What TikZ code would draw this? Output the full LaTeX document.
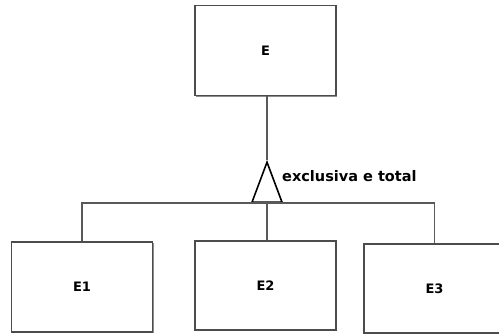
\documentclass[tikz,border=0pt]{standalone}
\usepackage{fontspec}
\setmainfont{DejaVu Sans}
\usetikzlibrary{shapes.geometric,shadows,positioning}

\tikzset{
 ent/.style={draw=black!70,line width=1.7pt,fill=white,minimum width=141pt,minimum height=90pt,
  inner sep=0pt,font=\fontsize{13}{13}\selectfont\bfseries,
  drop shadow={shadow xshift=1.2pt,shadow yshift=-1.2pt,fill=black!45,opacity=1}},
 lin/.style={draw=black!65,line width=1.5pt},
 isa/.style={draw=black,line width=1.6pt,fill=white,isosceles triangle,isosceles triangle stretches,
  shape border rotate=90,minimum width=30pt,minimum height=40pt,inner sep=0pt}
}

\begin{document}
\begin{tikzpicture}[x=1pt,y=-1pt]
\useasboundingbox (0,0) rectangle (499,334);
\node[ent] (E) at (265.5,50.5){E};
\node[ent] (E1) at (82,287){E1};
\node[ent,minimum height=89pt] (E2) at (265.5,285.5){E2};
\node[ent,minimum height=89pt] (E3) at (434.5,288.5){E3};

\node[isa,anchor=south] (T) at (267,203){};
\node[right,font=\fontsize{14.5}{14.5}\selectfont\bfseries,inner sep=0pt] (L) at (282,176){exclusiva e total};

\draw[lin] (E.south -| T.apex)--(T.apex);
\draw[lin] (E1.north) |- (T.south) -| (E3.north);
\draw[lin] (T.south)--(E2.north -| T.south);
\end{tikzpicture}
\end{document}
